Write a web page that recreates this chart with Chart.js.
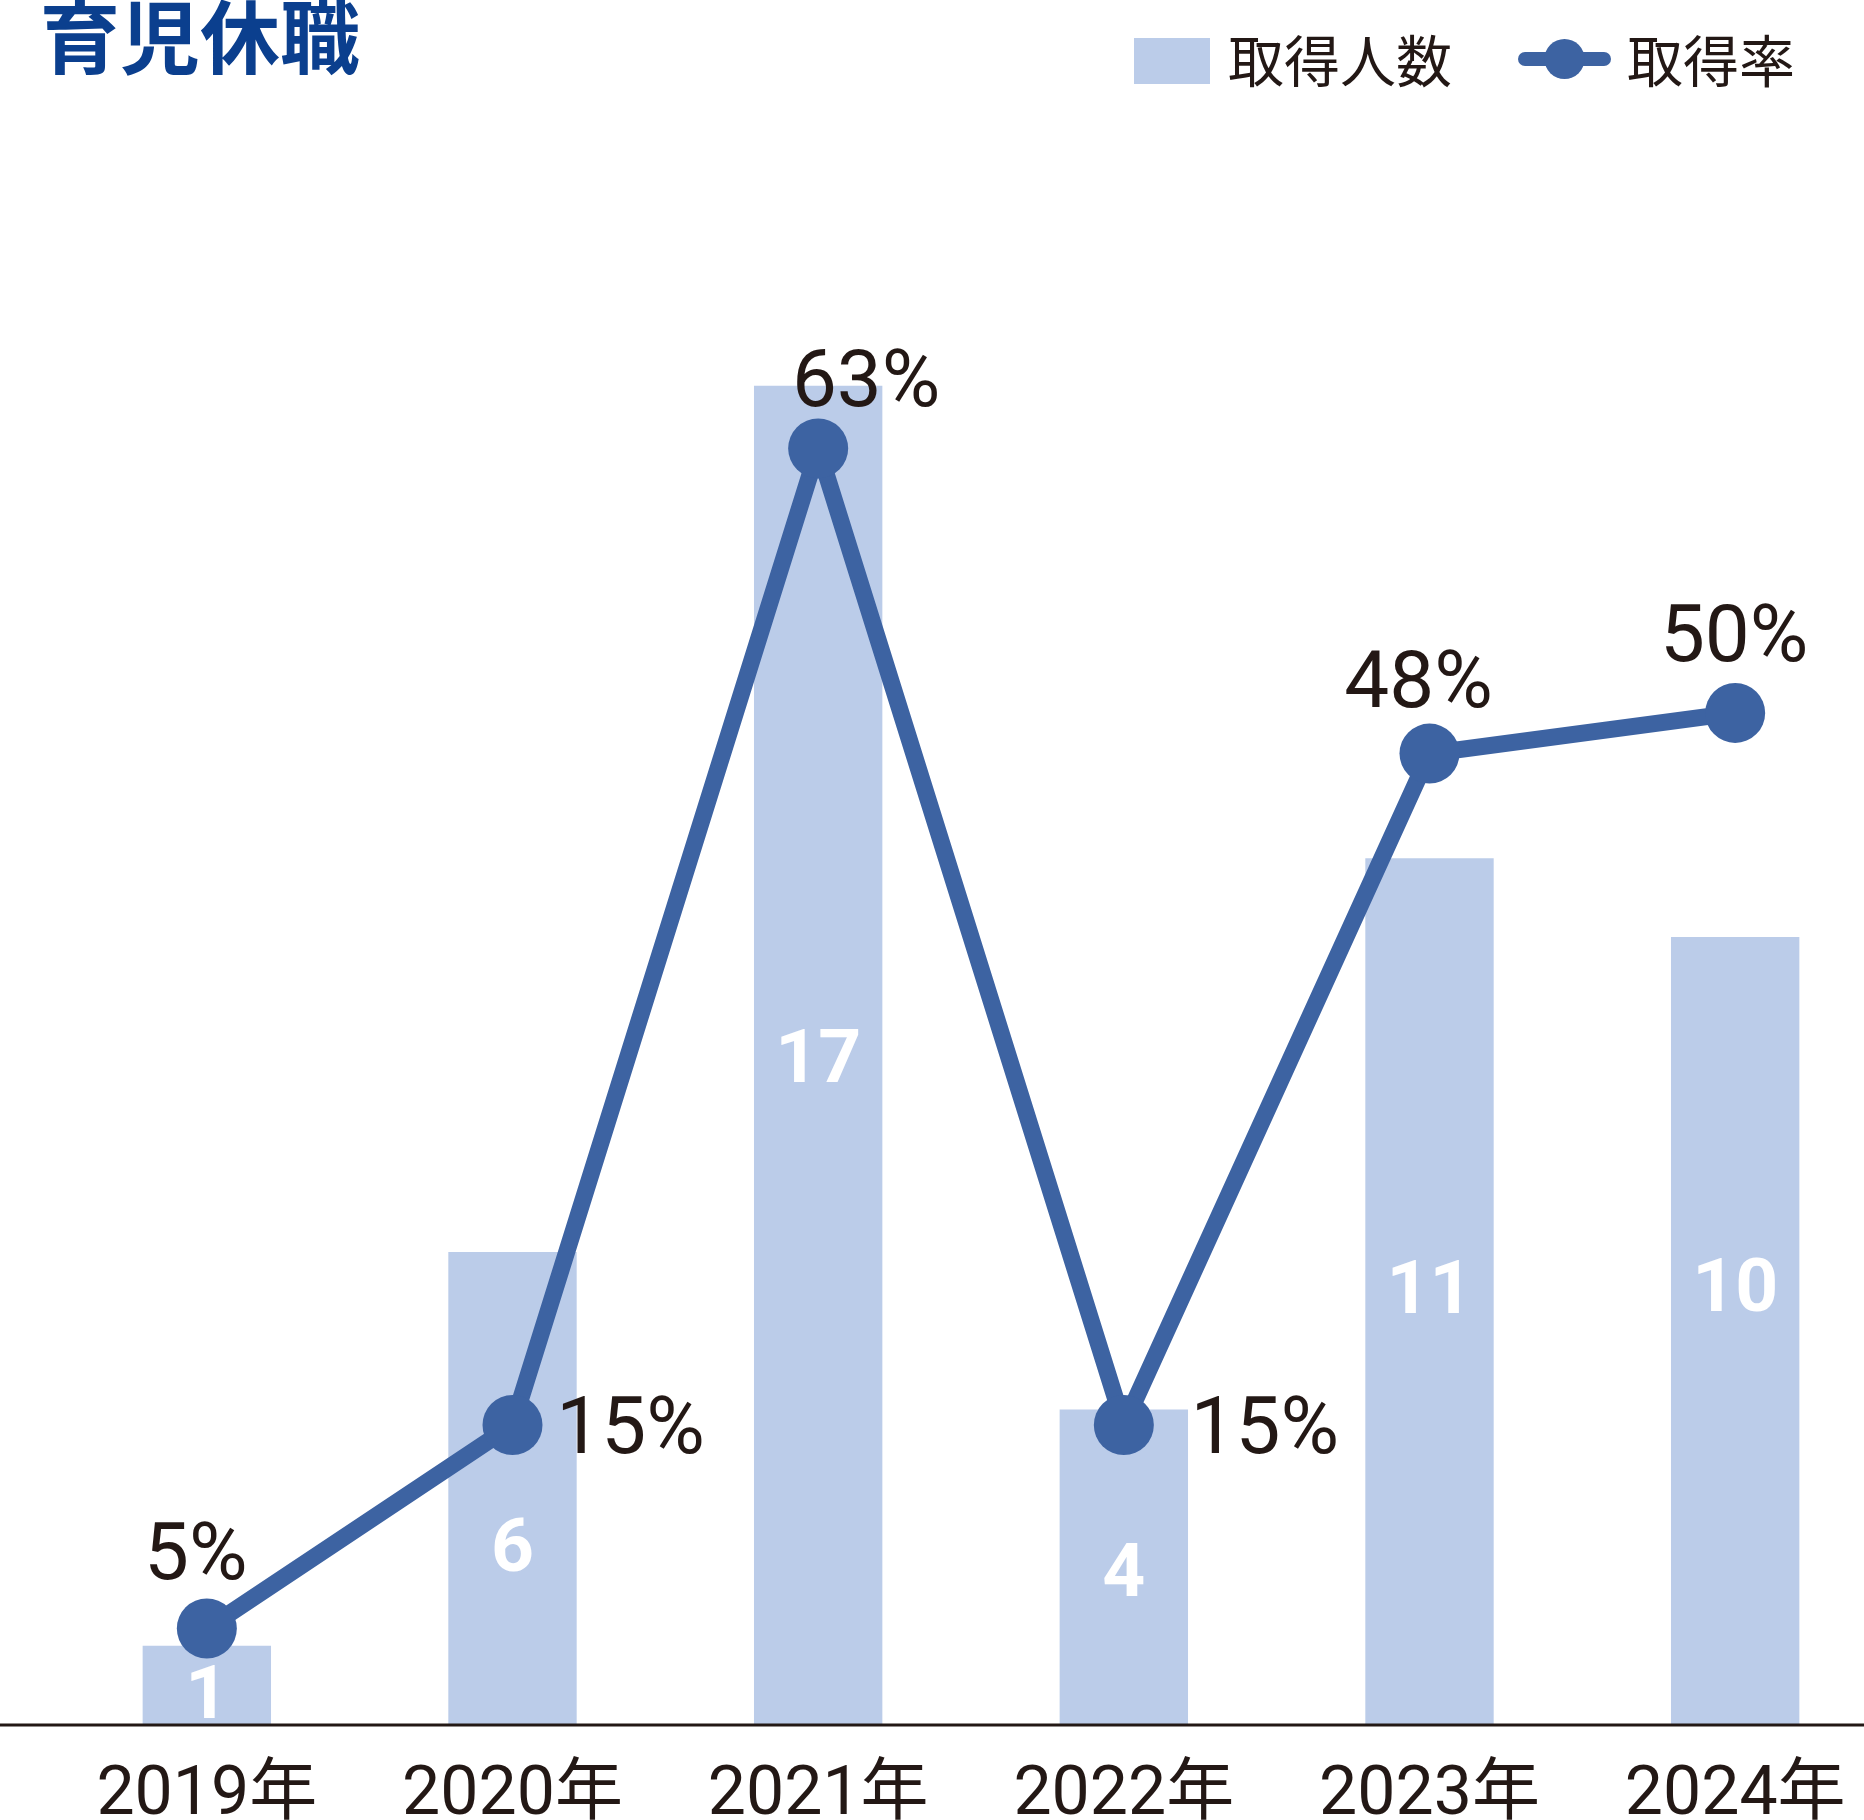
<!DOCTYPE html>
<html lang="ja">
<head>
<meta charset="utf-8">
<title>育児休職</title>
<script src="https://cdn.jsdelivr.net/npm/chart.js@4.4.1/dist/chart.umd.min.js"></script>
<style>
  html, body { margin: 0; padding: 0; width: 1864px; height: 1820px; overflow: hidden; background: #fff; }
  #title { position: absolute; left: 40px; top: -8px; margin: 0; font: bold 80px/80px "Noto Sans CJK JP"; color: #0b3f8e; z-index: 2; }
  #wrap { position: absolute; left: 0; top: -45px; width: 1918px; height: 1915px; }
</style>
</head>
<body>
<h1 id="title">育児休職</h1>
<div id="wrap"><canvas id="chart" width="1918" height="1915"></canvas></div>
<script>
const years = ['2019年', '2020年', '2021年', '2022年', '2023年', '2024年'];
const takers = [1, 6, 17, 4, 11, 10];       // 取得人数
const rates = [5, 15, 63, 15, 48, 50];      // 取得率 (%)

// label placement (style only)
const rateLabelOffsets = [[-11, -78], [118, 0], [48, -71], [141, 0], [-11, -75], [-1, -80]];
const countLabelShift = [6, 56, 0, 2, -5, -46];

const barColor = '#bbcce9';
const lineColor = '#3d63a2';
const textColor = '#231815';
const numFont = 'Roboto, "Noto Sans CJK JP", sans-serif';

function swatchImage() {
  const c = document.createElement('canvas');
  c.width = 95; c.height = 50;
  const g = c.getContext('2d');
  g.fillStyle = barColor;
  g.fillRect(16, 2, 76, 46);
  return c;
}

function lineImage() {
  const c = document.createElement('canvas');
  c.width = 95; c.height = 50;
  const g = c.getContext('2d');
  g.strokeStyle = lineColor;
  g.fillStyle = lineColor;
  g.lineWidth = 14;
  g.lineCap = 'round';
  g.beginPath(); g.moveTo(8, 23); g.lineTo(87, 23); g.stroke();
  g.beginPath(); g.arc(47.5, 23, 20, 0, Math.PI * 2); g.fill();
  return c;
}

const legendShift = {
  id: 'legendShift',
  afterLayout(chart) {
    chart.legend.left -= 32;
    chart.legend.right -= 32;
  }
};

const labelsPlugin = {
  id: 'valueLabels',
  afterDatasetsDraw(chart) {
    const ctx = chart.ctx;
    const bars = chart.getDatasetMeta(0).data;
    const points = chart.getDatasetMeta(1).data;
    const area = chart.chartArea;
    ctx.save();

    // baseline across the whole width
    ctx.strokeStyle = textColor;
    ctx.lineWidth = 3;
    ctx.beginPath();
    ctx.moveTo(0, area.bottom + 0.5);
    ctx.lineTo(chart.width, area.bottom + 0.5);
    ctx.stroke();

    ctx.textAlign = 'center';
    ctx.textBaseline = 'alphabetic';

    ctx.font = 'bold 75px ' + numFont;
    ctx.fillStyle = '#ffffff';
    bars.forEach((bar, i) => {
      const mid = (bar.y + bar.base) / 2 + countLabelShift[i];
      ctx.fillText(String(takers[i]), bar.x, mid + 75 * 0.355);
    });

    ctx.font = '80px ' + numFont;
    ctx.fillStyle = textColor;
    points.forEach((pt, i) => {
      const [dx, dy] = rateLabelOffsets[i];
      ctx.fillText(rates[i] + '%', pt.x + dx, pt.y + dy + 80 * 0.355);
    });
    ctx.restore();
  }
};

const ctx = document.getElementById('chart').getContext('2d');
const chart = new Chart(ctx, {
  data: {
    labels: years,
    datasets: [
      {
        type: 'bar',
        label: '取得人数',
        data: takers,
        backgroundColor: barColor,
        borderWidth: 0,
        categoryPercentage: 1,
        barPercentage: 0.42,
        yAxisID: 'y',
        order: 1
      },
      {
        type: 'line',
        label: '取得率',
        data: rates,
        borderColor: lineColor,
        borderWidth: 17,
        tension: 0,
        pointRadius: 30,
        pointHoverRadius: 30,
        pointBackgroundColor: lineColor,
        pointBorderWidth: 0,
        clip: false,
        yAxisID: 'y1',
        order: 0
      }
    ]
  },
  options: {
    responsive: false,
    animation: false,
    layout: { padding: { left: 54, right: 13, top: 0, bottom: 0 } },
    plugins: {
      tooltip: { enabled: false },
      legend: {
        position: 'top',
        align: 'end',
        labels: {
          usePointStyle: true,
          pointStyleWidth: 69,
          padding: 78,
          color: textColor,
          font: { family: '"Noto Sans CJK JP"', size: 56 },
          generateLabels: () => [
            { text: '取得人数', pointStyle: swatchImage(), fillStyle: barColor, strokeStyle: 'transparent', lineWidth: 0, fontColor: textColor, datasetIndex: 0, hidden: false },
            { text: '取得率', pointStyle: lineImage(), fillStyle: lineColor, strokeStyle: 'transparent', lineWidth: 0, fontColor: textColor, datasetIndex: 1, hidden: false }
          ]
        }
      }
    },
    scales: {
      x: {
        offset: true,
        grid: { display: false, drawTicks: false },
        border: { display: false },
        ticks: {
          padding: 32,
          color: textColor,
          font: { family: numFont, size: 68 }
        }
      },
      y: { display: false, min: 0, max: 20.64 },
      y1: { display: false, min: 0.29, max: 80.17 }
    }
  },
  plugins: [legendShift, labelsPlugin]
});
</script>
</body>
</html>
